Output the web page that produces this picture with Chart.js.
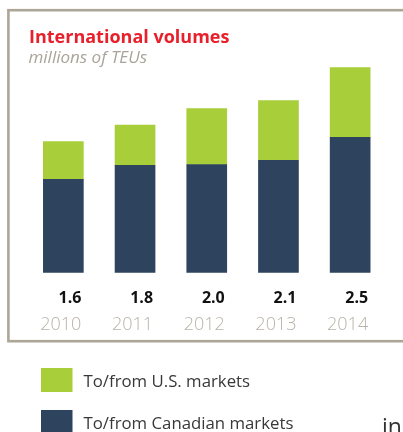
<!DOCTYPE html>
<html>
<head>
<meta charset="utf-8">
<script src="https://cdn.jsdelivr.net/npm/chart.js@4.4.1/dist/chart.umd.min.js"></script>
<style>
  html, body { margin: 0; padding: 0; background: #fff; overflow: hidden; }
  canvas { display: block; }
</style>
</head>
<body>
<canvas id="volumesChart" width="403" height="432"></canvas>
<script>
// International volumes, millions of TEUs, split by market.
const years = ['2010', '2011', '2012', '2013', '2014'];
const canadianMarkets = [1.14, 1.31, 1.32, 1.37, 1.65];
const usMarkets = [0.46, 0.49, 0.68, 0.73, 0.85];
const totalLabels = ['1.6', '1.8', '2.0', '2.1', '2.5'];

const GREEN = '#a8ce39';
const NAVY = '#2e435d';

// Frame, headings, per-bar labels and the stacked legend under the box.
const decorations = {
  id: 'decorations',
  beforeDraw(chart) {
    const ctx = chart.ctx;
    ctx.save();
    ctx.strokeStyle = '#aca697';
    ctx.lineWidth = 2.6;
    ctx.strokeRect(8.4, 10.2, 420, 331);
    ctx.restore();
  },
  afterDraw(chart) {
    const ctx = chart.ctx;
    ctx.save();
    ctx.textBaseline = 'alphabetic';

    ctx.fillStyle = '#e8202b';
    ctx.font = 'bold 18px "Open Sans"';
    ctx.textAlign = 'left';
    ctx.fillText('International volumes', 29, 43);

    ctx.fillStyle = '#a9a499';
    ctx.font = 'italic 17px "Open Sans"';
    ctx.fillText('millions of TEUs', 28.5, 63);

    // totals and years sit right-aligned under each bar
    const bars = chart.getDatasetMeta(0).data;
    bars.forEach((bar, i) => {
      const right = bar.x + bar.width / 2 - 2;
      ctx.textAlign = 'right';
      ctx.fillStyle = '#111';
      ctx.font = 'bold 16px "Open Sans"';
      ctx.fillText(totalLabels[i], right, 302.5);
      ctx.fillStyle = '#b8b2a8';
      ctx.font = '300 18px "Open Sans"';
      ctx.fillText(years[i], right, 330);
    });

    // legend, top entry is the upper stack segment
    const items = chart.data.datasets.slice().reverse();
    items.forEach((ds, i) => {
      const top = 368 + i * 42;
      ctx.fillStyle = ds.backgroundColor;
      ctx.fillRect(41, top, 31.5, 24);
      ctx.fillStyle = '#383838';
      ctx.font = '16.8px "Open Sans"';
      ctx.textAlign = 'left';
      ctx.fillText(ds.label, 83.5, top + 19);
    });

    ctx.fillStyle = '#333';
    ctx.font = '23px "Open Sans"';
    ctx.fillText('in', 382, 435);
    ctx.restore();
  },
};

new Chart(document.getElementById('volumesChart'), {
  type: 'bar',
  data: {
    labels: years,
    datasets: [
      { label: 'To/from Canadian markets', data: canadianMarkets, backgroundColor: NAVY },
      { label: 'To/from U.S. markets', data: usMarkets, backgroundColor: GREEN },
    ],
  },
  options: {
    responsive: false,
    animation: false,
    devicePixelRatio: 1,
    layout: { padding: { left: 27.5, right: 17, top: 59.5, bottom: 159.3 } },
    datasets: { bar: { barThickness: 40 } },
    plugins: { legend: { display: false }, tooltip: { enabled: false } },
    scales: {
      x: { stacked: true, display: false },
      y: { stacked: true, display: false, min: 0, max: 2.6 },
    },
  },
  plugins: [decorations],
});
</script>
</body>
</html>
